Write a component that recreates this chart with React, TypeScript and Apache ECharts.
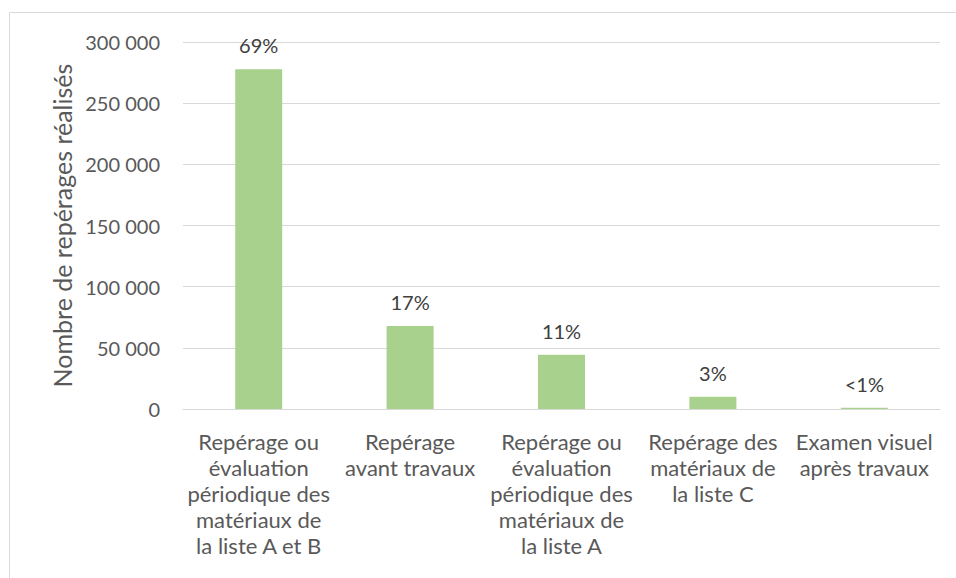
import React, { useEffect, useRef } from "react";
import * as echarts from "echarts";

const categories = [
  "Repérage ou\névaluation\npériodique des\nmatériaux de\nla liste A et B",
  "Repérage\navant travaux",
  "Repérage ou\névaluation\npériodique des\nmatériaux de\nla liste A",
  "Repérage des\nmatériaux de\nla liste C",
  "Examen visuel\naprès travaux",
];
const values = [277700, 67900, 44300, 10100, 1100];
const shareLabels = ["69%", "17%", "11%", "3%", "<1%"];
const yTicks = [0, 50000, 100000, 150000, 200000, 250000, 300000];

const FONT = "Lato, 'Open Sans', sans-serif";

export default function App() {
  const ref = useRef<HTMLDivElement>(null);
  useEffect(() => {
    if (!ref.current) return;
    const chart = echarts.init(ref.current, undefined, { renderer: "svg" });
    chart.setOption({
      animation: false,
      backgroundColor: "#ffffff",
      textStyle: { fontFamily: FONT },
      graphic: [
        {
          type: "rect",
          shape: { x: 9.5, y: 12.5, width: 1000, height: 700 },
          style: { fill: "none", stroke: "#d9d9d9", lineWidth: 1 },
          silent: true,
        },
      ],
      grid: { left: 183, right: 16, top: 42, bottom: 169 },
      xAxis: {
        type: "category",
        data: categories,
        axisLine: { show: true, lineStyle: { color: "#d9d9d9", width: 1 } },
        axisTick: { show: false },
        axisLabel: {
          color: "#595959",
          fontSize: 22,
          fontFamily: FONT,
          lineHeight: 26,
          margin: 19,
          interval: 0,
          align: "center",
        },
      },
      yAxis: {
        type: "value",
        min: yTicks[0],
        max: yTicks[yTicks.length - 1],
        interval: 50000,
        name: "Nombre de repérages réalisés",
        nameLocation: "middle",
        nameGap: 107,
        nameRotate: 90,
        nameTextStyle: { color: "#595959", fontSize: 25, fontFamily: FONT },
        axisLine: { show: false },
        axisTick: { show: false },
        splitLine: { lineStyle: { color: "#d9d9d9", width: 1 } },
        axisLabel: {
          color: "#595959",
          fontSize: 20,
          fontFamily: FONT,
          margin: 23,
          formatter: (v: number) =>
            v === 0 ? "0" : String(v).replace(/\B(?=(\d{3})+(?!\d))/g, " "),
        },
      },
      series: [
        {
          type: "bar",
          data: values,
          barWidth: 47,
          itemStyle: { color: "#a9d18e" },
          label: {
            show: true,
            position: "top",
            distance: 14,
            color: "#404040",
            fontSize: 20,
            fontFamily: FONT,
            formatter: (p: any) => shareLabels[p.dataIndex],
          },
        },
      ],
    });
    return () => chart.dispose();
  }, []);
  return (
    <div
      ref={ref}
      style={{ position: "fixed", left: 0, top: 0, width: 956, height: 578 }}
    />
  );
}
